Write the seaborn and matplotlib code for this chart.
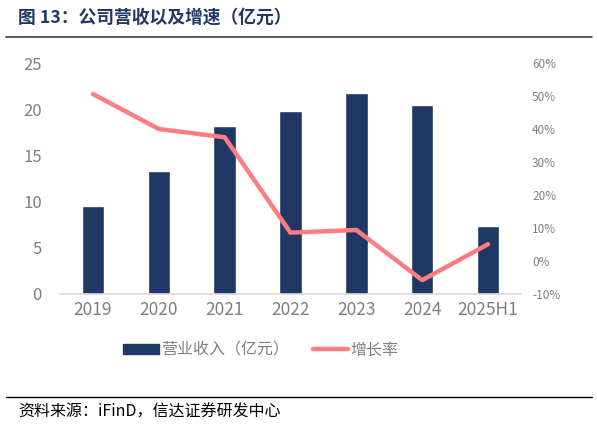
import matplotlib
matplotlib.use("Agg")
import matplotlib.pyplot as plt
import matplotlib.ticker as mticker
from matplotlib.lines import Line2D
from matplotlib.patches import Patch
import seaborn as sns
import pandas as pd

categories = ["2019", "2020", "2021", "2022", "2023", "2024", "2025H1"]
revenue = [9.5, 13.3, 18.2, 19.8, 21.7, 20.5, 7.4]
growth = [50.6, 40.0, 37.5, 8.6, 9.4, -5.8, 5.1]
left_ticks = [0, 5, 10, 15, 20, 25]
right_ticks = [-10, 0, 10, 20, 30, 40, 50, 60]

sns.set_theme(style="white")
plt.rcParams['font.family'] = ['Noto Sans CJK SC', 'DejaVu Sans']

bar_color = "#1F3864"
line_color = "#FF7C80"
tick_gray = "#7F7F7F"

df = pd.DataFrame({"cat": categories, "rev": revenue, "g": growth})

fig = plt.figure(figsize=(5.97, 4.28), dpi=100)
ax = fig.add_axes([60/597, 1-294/428, (521-60)/597, (294-63)/428])

sns.barplot(data=df, x="cat", y="rev", color=bar_color, width=0.34, ax=ax, saturation=1)
ax.set_xlim(-0.5, 6.5)
ax.set_ylim(0, 25)
ax.set_yticks(left_ticks)
ax.set_xlabel("")
ax.set_ylabel("")
for s in ["top", "right", "left"]:
    ax.spines[s].set_visible(False)
ax.spines["bottom"].set_color("#D9D9D9")
ax.spines["bottom"].set_linewidth(1.2)
ax.tick_params(axis="y", colors=tick_gray, labelsize=12, length=0, pad=13)
ax.tick_params(axis="x", colors=tick_gray, labelsize=12.5, length=0, pad=5)

ax2 = ax.twinx()
sns.lineplot(x=list(range(len(categories))), y=growth, color=line_color, linewidth=3.2, ax=ax2)
ax2.set_ylim(-10, 60)
ax2.set_yticks(right_ticks)
ax2.yaxis.set_major_formatter(mticker.FuncFormatter(lambda v, p: f"{int(v)}%"))
for s in ["top", "right", "left", "bottom"]:
    ax2.spines[s].set_visible(False)
ax2.tick_params(axis="y", colors=tick_gray, labelsize=8.5, length=0, pad=8)
ax2.set_xlim(-0.5, 6.5)

# title
fig.text(18/597, 1-18/428, "图 13：公司营收以及增速（亿元）", fontsize=12.8, fontweight="bold",
         color="#1F3864", va="center", ha="left")
fig.add_artist(Line2D([6/597, 592/597], [1-37/428, 1-37/428], color="#404040", lw=1.2))

# legend
handles = [Patch(facecolor=bar_color, edgecolor=bar_color),
           Line2D([0], [0], color=line_color, lw=3.2)]
leg = fig.legend(handles, ["营业收入（亿元）", "增长率"], loc="center",
                 bbox_to_anchor=(261/597, 1-350/428), ncol=2, frameon=False,
                 fontsize=11.5, handlelength=2.2, handleheight=0.6, columnspacing=1.5,
                 handletextpad=0.15)
for t in leg.get_texts():
    t.set_color(tick_gray)

# source
fig.add_artist(Line2D([6/597, 592/597], [1-397/428, 1-397/428], color="#000000", lw=1.0))
fig.text(18/597, 1-412/428, "资料来源：iFinD，信达证券研发中心", fontsize=11.5, style="italic",
         color="#000000", va="center", ha="left")

fig.savefig("out.png", dpi=100)
